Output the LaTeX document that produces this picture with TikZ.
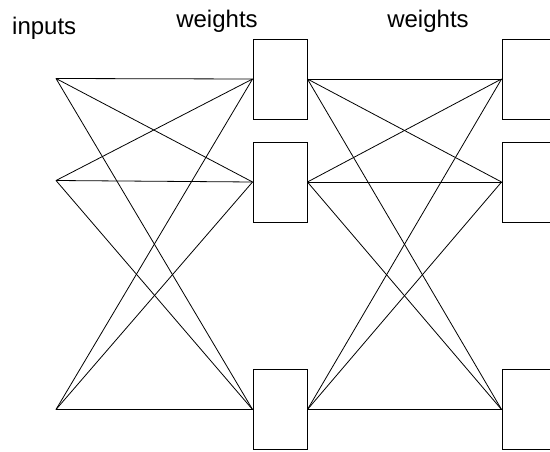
\documentclass[tikz,border=0pt]{standalone}
\usepackage{fontspec}
\setmainfont{Liberation Sans}
\begin{document}
\begin{tikzpicture}[x=1pt,y=-1pt,
  wbox/.style={draw=black,line width=0.9pt,minimum width=54pt,minimum height=80pt,inner sep=0pt,anchor=center},
  link/.style={draw=black,line width=0.8pt},
  lbl/.style={font=\fontsize{24}{28}\selectfont,inner sep=0pt}]
\useasboundingbox (0,0) rectangle (550,452);
\clip (0,0) rectangle (550,452);
\node[lbl,anchor=base west] (tin) at (12,35) {inputs};
\node[lbl,anchor=base] (tw1) at (217,28) {weights};
\node[lbl,anchor=base] (tw2) at (428,28) {weights};
\coordinate (i1) at (56,78.5);
\coordinate (i2) at (56,180.5);
\coordinate (i3) at (56,409.5);
\node[wbox] (b1) at (280,79) {};
\node[wbox] (b2) at (280,182) {};
\node[wbox] (b3) at (280,409.5) {};
\node[wbox] (c1) at (529,79) {};
\node[wbox] (c2) at (529,182) {};
\node[wbox] (c3) at (529,409.5) {};
\foreach \a in {1,2,3}{
  \foreach \b in {1,2,3}{
    \draw[link] (i\a) -- (b\b.west);
    \draw[link] (b\a.east) -- (c\b.west);
  }
}
\end{tikzpicture}
\end{document}
